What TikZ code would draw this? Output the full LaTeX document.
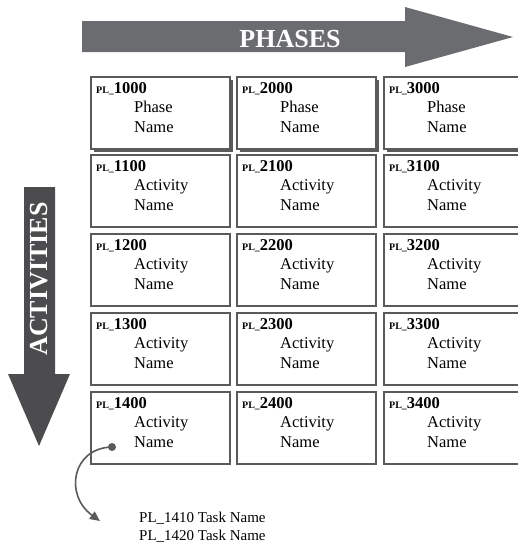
\documentclass[tikz,border=0pt]{standalone}
\usepackage{fontspec}
\setmainfont{Liberation Serif}
\usetikzlibrary{arrows.meta,shadows}
\definecolor{phasecol}{HTML}{6B6C70}
\definecolor{actcol}{HTML}{4C4C4E}
\definecolor{boxline}{HTML}{5A5A5C}
\tikzset{
  cell/.style={draw=boxline, line width=1.3pt, minimum width=139pt, minimum height=72pt, anchor=north west, inner sep=0pt, outer sep=0pt, fill=white},
  shadowcell/.style={cell, drop shadow={shadow xshift=3pt, shadow yshift=-3pt, fill=boxline, opacity=1}},
  plcode/.style={anchor=base west, inner sep=0pt, font=\fontsize{16.5}{19}\selectfont\bfseries},
  celltext/.style={anchor=base west, inner sep=0pt, align=left, font=\fontsize{16.5}{20}\selectfont},
  tasktext/.style={anchor=base west, inner sep=0pt, font=\fontsize{15}{17}\selectfont},
  link/.style={draw=boxline, line width=1.6pt}
}
\newcommand{\plcode}[1]{{\fontsize{10}{12}\selectfont PL\_}#1}
\begin{document}
\begin{tikzpicture}[x=1pt,y=-1pt]
\useasboundingbox (0,0) rectangle (518,542);
% PHASES arrow
\fill[phasecol] (82,21) -- (405,21) -- (405,7) -- (513,37) -- (405,67) -- (405,52) -- (82,52) -- cycle;
\node[text=white, font=\fontsize{26}{28}\selectfont\bfseries, anchor=base] (phases) at (290,47) {PHASES};
% ACTIVITIES arrow
\fill[actcol] (24,187) -- (55,187) -- (55,374) -- (70,374) -- (39,446) -- (8,374) -- (24,374) -- cycle;
\node[text=white, font=\fontsize{26}{28}\selectfont\bfseries, rotate=90, anchor=base] (activities) at (48,279) {ACTIVITIES};
% grid
\foreach \c/\x in {1/91,2/237,3/384}{
  \node[shadowcell] (b\c0) at (\x,77) {};
  \node[plcode] (p\c0) at (\x+5,93) {\plcode{\c000}};
  \node[celltext] (t\c0) at (\x+43,112) {Phase};
  \node[celltext] (n\c0) at (\x+43,132) {Name};
  \foreach \r/\y in {1/155,2/234,3/313,4/392}{
    \node[cell] (b\c\r) at (\x,\y) {};
    \node[plcode] (p\c\r) at (\x+5,\y+16) {\plcode{\c\r00}};
    \node[celltext] (t\c\r) at (\x+43,\y+35) {Activity};
    \node[celltext] (n\c\r) at (\x+43,\y+55) {Name};
  }
}
% link to tasks
\node[circle, fill=boxline, inner sep=0pt, minimum size=8pt] (dot) at (112,447) {};
\coordinate (tip) at (100,521);
\draw[link, -{Triangle[length=10pt,width=9pt]}] (dot.center) .. controls (72,448) and (64,495) .. (tip);
\node[tasktext] (task1) at (139,522) {PL\_1410 Task Name};
\node[tasktext] (task2) at (139,540) {PL\_1420 Task Name};
\end{tikzpicture}
\end{document}
